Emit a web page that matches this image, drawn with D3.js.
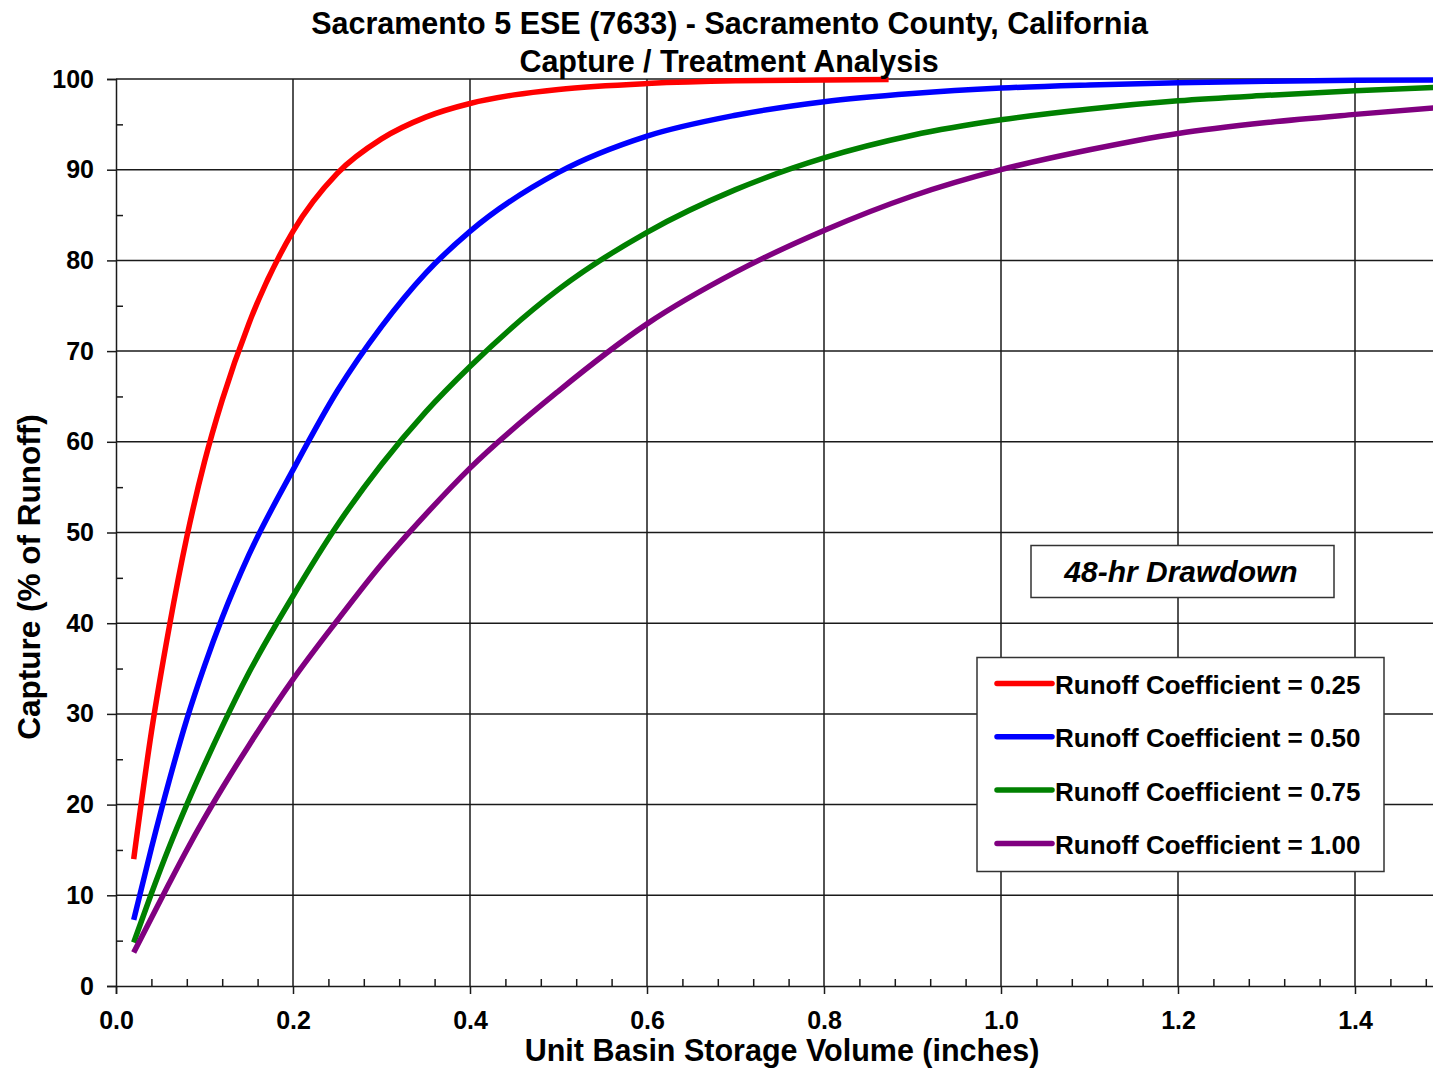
<!DOCTYPE html>
<html>
<head>
<meta charset="utf-8">
<script src="https://cdn.jsdelivr.net/npm/d3@7"></script>
<style>
  body { margin: 0; background: #fff; }
  svg { display: block; font-family: "Liberation Sans", Arial, sans-serif; }
</style>
</head>
<body>
<div id="chart"></div>
<script>
// storage volume (inches)
var volumes = [0.02, 0.04, 0.06, 0.08, 0.10, 0.12, 0.15, 0.20, 0.25, 0.30, 0.35, 0.40,
               0.50, 0.60, 0.70, 0.80, 0.90, 1.00, 1.10, 1.20, 1.30, 1.40, 1.50];

// capture (% of runoff) per runoff coefficient
var volumes025 = [0.02, 0.04, 0.06, 0.08, 0.10, 0.12, 0.15, 0.20, 0.25, 0.30, 0.35, 0.40,
                  0.45, 0.50, 0.60, 0.70, 0.873];
var capture025 = [14.0, 28.0, 39.5, 49.5, 57.8, 64.6, 73.0, 83.2, 89.6, 93.4, 95.8, 97.3,
                  98.25, 98.85, 99.5, 99.8, 99.95];
var capture050 = [7.3, 15.2, 22.6, 29.4, 35.3, 40.6, 47.5, 56.9, 65.6, 72.7, 78.6, 83.2,
                  89.7, 93.7, 96.0, 97.5, 98.4, 99.0, 99.35, 99.6, 99.75, 99.85, 99.9];
var capture075 = [4.8, 10.2, 15.3, 20.0, 24.4, 28.6, 34.5, 43.0, 50.8, 57.5, 63.3, 68.3,
                  76.8, 83.1, 87.8, 91.3, 93.8, 95.5, 96.7, 97.6, 98.2, 98.7, 99.1];
var capture100 = [3.7, 7.5, 11.3, 15.0, 18.5, 21.8, 26.5, 33.8, 40.3, 46.5, 52.0, 57.1,
                  65.6, 73.0, 78.7, 83.3, 87.1, 90.0, 92.2, 94.0, 95.2, 96.1, 96.9];

var seriesNames = ["Runoff Coefficient = 0.25", "Runoff Coefficient = 0.50",
                   "Runoff Coefficient = 0.75", "Runoff Coefficient = 1.00"];
var seriesColors = ["#ff0000", "#0000ff", "#008000", "#800080"];

var xMajor = [0, 0.2, 0.4, 0.6, 0.8, 1.0, 1.2, 1.4];
var yMajor = [0, 10, 20, 30, 40, 50, 60, 70, 80, 90, 100];

var W = 1433, H = 1068;
var svg = d3.select("#chart").append("svg").attr("width", W).attr("height", H);

var x = d3.scaleLinear().domain([0, 1.5]).range([116, 116 + 885 * 1.5]);
var y = d3.scaleLinear().domain([0, 100]).range([986, 79]);

var gridColor = "#1a1a1a";

// grid
svg.append("g").selectAll("line.h").data(yMajor.slice(1)).enter().append("line")
  .attr("x1", x(0)).attr("x2", x(1.5))
  .attr("y1", function (d) { return y(d); }).attr("y2", function (d) { return y(d); })
  .attr("stroke", gridColor).attr("stroke-width", 1.5);
svg.append("g").selectAll("line.v").data(xMajor.slice(1)).enter().append("line")
  .attr("y1", y(0)).attr("y2", y(100))
  .attr("x1", function (d) { return x(d); }).attr("x2", function (d) { return x(d); })
  .attr("stroke", gridColor).attr("stroke-width", 1.5);

// minor ticks (inside)
var xMinor = d3.range(0.04, 1.5, 0.04).filter(function (d) { return Math.abs(d / 0.2 - Math.round(d / 0.2)) > 0.01; });
var yMinor = d3.range(5, 100, 10);

var xMinorAxis = svg.append("g").attr("transform", "translate(0," + y(0) + ")")
  .call(d3.axisBottom(x).tickValues(xMinor).tickSize(-7).tickFormat(""));
var yMinorAxis = svg.append("g").attr("transform", "translate(" + x(0) + ",0)")
  .call(d3.axisLeft(y).tickValues(yMinor).tickSize(-7).tickFormat(""));

// major axes
var xAxis = svg.append("g").attr("transform", "translate(0," + y(0) + ")")
  .call(d3.axisBottom(x).tickValues(xMajor).tickSize(8).tickPadding(17).tickFormat(d3.format(".1f")));
var yAxis = svg.append("g").attr("transform", "translate(" + x(0) + ",0)")
  .call(d3.axisLeft(y).tickValues(yMajor).tickSize(9).tickPadding(13).tickFormat(d3.format("d")));

[xMinorAxis, yMinorAxis, xAxis, yAxis].forEach(function (a) {
  a.selectAll("path.domain").attr("stroke", gridColor).attr("stroke-width", 1.5);
  a.selectAll(".tick line").attr("stroke", gridColor).attr("stroke-width", 1.5);
});
xMinorAxis.select("path.domain").remove();
yMinorAxis.select("path.domain").remove();
[xAxis, yAxis].forEach(function (a) {
  a.selectAll(".tick text")
    .attr("fill", "#000").style("font-size", "25px").style("font-weight", "bold")
    .style("font-family", "Liberation Sans, Arial, sans-serif");
});
xAxis.selectAll(".tick text").attr("dy", "0.71em");

// curves
var line = d3.line()
  .x(function (d) { return x(d[0]); })
  .y(function (d) { return y(d[1]); })
  .curve(d3.curveMonotoneX);

var series = [
  d3.zip(volumes025, capture025),
  d3.zip(volumes, capture050),
  d3.zip(volumes, capture075),
  d3.zip(volumes, capture100)
];

svg.append("g").selectAll("path.curve").data(series).enter().append("path")
  .attr("d", line)
  .attr("fill", "none")
  .attr("stroke", function (d, i) { return seriesColors[i]; })
  .attr("stroke-width", 5.5)
  .attr("stroke-linejoin", "round");

// titles
svg.append("text").attr("x", 729.5).attr("y", 34).attr("text-anchor", "middle")
  .style("font-size", "30.5px").style("font-weight", "bold")
  .text("Sacramento 5 ESE (7633) - Sacramento County, California");
svg.append("text").attr("x", 729).attr("y", 72).attr("text-anchor", "middle")
  .style("font-size", "30.5px").style("font-weight", "bold")
  .text("Capture / Treatment Analysis");

svg.append("text").attr("x", 782).attr("y", 1060.5).attr("text-anchor", "middle")
  .style("font-size", "30.5px").style("font-weight", "bold")
  .text("Unit Basin Storage Volume (inches)");
svg.append("text").attr("transform", "translate(40,577) rotate(-90)").attr("text-anchor", "middle")
  .style("font-size", "31.5px").style("font-weight", "bold")
  .text("Capture (% of Runoff)");

// drawdown label
svg.append("rect").attr("x", 1031).attr("y", 545.5).attr("width", 303).attr("height", 52)
  .attr("fill", "#fff").attr("stroke", "#333").attr("stroke-width", 1.5);
svg.append("text").attr("x", 1181).attr("y", 582).attr("text-anchor", "middle")
  .style("font-size", "30px").style("font-weight", "bold").style("font-style", "italic")
  .text("48-hr Drawdown");

// legend
svg.append("rect").attr("x", 977).attr("y", 657.5).attr("width", 407).attr("height", 214)
  .attr("fill", "#fff").attr("stroke", "#333").attr("stroke-width", 1.5);
var legend = svg.append("g").selectAll("g").data(seriesNames).enter().append("g")
  .attr("transform", function (d, i) { return "translate(0," + (683.5 + i * 53.3) + ")"; });
legend.append("line").attr("x1", 997).attr("x2", 1052).attr("y1", 0).attr("y2", 0)
  .attr("stroke", function (d, i) { return seriesColors[i]; }).attr("stroke-width", 5.5)
  .attr("stroke-linecap", "round");
legend.append("text").attr("x", 1055).attr("y", 10.5)
  .style("font-size", "26px").style("font-weight", "bold")
  .text(function (d) { return d; });
</script>
</body>
</html>
